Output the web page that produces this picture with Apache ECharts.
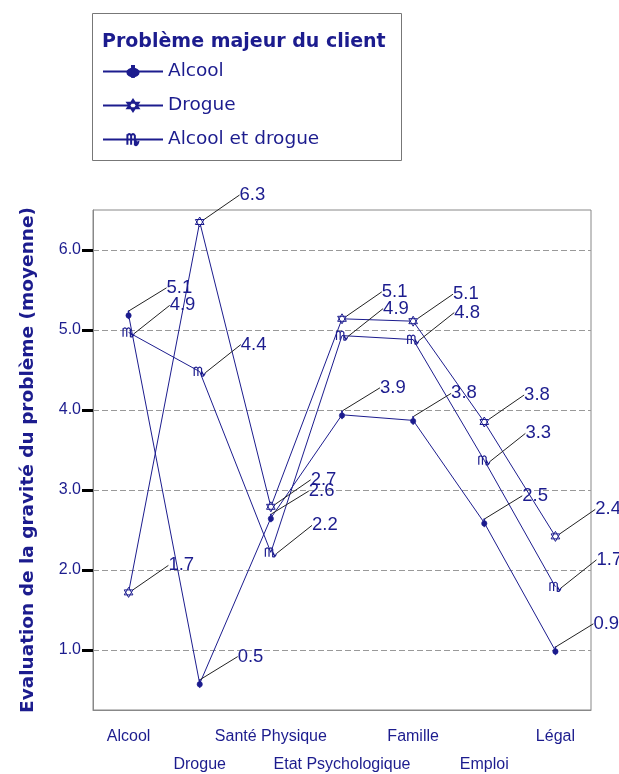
<!DOCTYPE html>
<html><head><meta charset="utf-8">
<script src="https://cdn.jsdelivr.net/npm/echarts@6/dist/echarts.min.js"></script>
<style>html,body{margin:0;padding:0;background:#fff}#c{width:619px;height:774px}</style>
</head><body><div id="c"></div>
<script>
const categories = ['Alcool','Drogue','Santé Physique','Etat Psychologique','Famille','Emploi','Légal'];
const seriesNames = ['Alcool','Drogue','Alcool et drogue'];
const alcoolValues = [5.19, 0.58, 2.65, 3.94, 3.87, 2.59, 0.99];
const drogueValues = [1.72, 6.35, 2.79, 5.14, 5.11, 3.85, 2.42];
const alcoolDrogueValues = [4.97, 4.48, 2.22, 4.93, 4.88, 3.37, 1.79];
const yTicks = [1, 2, 3, 4, 5, 6];

const NAVY = '#1c1c8e';
const symCircle = 'path://M5,0 L5,3 A4,4 0 1,1 4.99,3 Z M4.3,0 L5.7,0 L5.7,12 L4.3,12 Z';
const symStar = 'path://M5,0 L9.33,7.5 L0.67,7.5 Z M5,10 L0.67,2.5 L9.33,2.5 Z';
const symVirgo = 'path://M0,3 L0,10 M0,4 Q1.5,1.5 3,4 L3,10 M3,4 Q4.5,1.5 6,4 L6,10 Q8,11 9,7.5 M6,6 L8,10';

function trunc(v){ return (Math.floor(v*10+1e-9)/10).toFixed(1); }

const symbols = [
  {symbol: symCircle, size: 8, item: {color: NAVY, borderColor: NAVY, borderWidth: 0.6}},
  {symbol: symStar, size: 10, item: {color: '#fff', borderColor: NAVY, borderWidth: 1}},
  {symbol: symVirgo, size: 11, item: {color: 'rgba(0,0,0,0)', borderColor: NAVY, borderWidth: 1.2}}
];
const dataSets = [alcoolValues, drogueValues, alcoolDrogueValues];

const series = dataSets.map((d, i) => ({
  name: seriesNames[i],
  type: 'line',
  data: d,
  symbol: symbols[i].symbol,
  symbolSize: symbols[i].size,
  symbolKeepAspect: true,
  showAllSymbol: true,
  itemStyle: symbols[i].item,
  lineStyle: {color: NAVY, width: 1},
  label: {
    show: true, position: 'right', distance: 0,
    formatter: p => trunc(p.value),
    color: NAVY, fontFamily: 'Liberation Sans, Arial', fontSize: 18.5
  },
  labelLayout: {dx: 35, dy: -27},
  labelLine: {show: true, lineStyle: {color: '#222', width: 1}},
  animation: false
}));

const chart = echarts.init(document.getElementById('c'), null, {renderer: 'canvas'});
chart.setOption({
  animation: false,
  backgroundColor: '#fff',
  title: {
    text: 'Problème majeur du client',
    left: 97, top: 28,
    textStyle: {color: NAVY, fontFamily: 'DejaVu Sans', fontWeight: 'bold', fontSize: 19}
  },
  legend: {
    data: seriesNames,
    orient: 'vertical', left: 97, top: 57,
    itemWidth: 60, itemHeight: 14, itemGap: 15,
    textStyle: {color: NAVY, fontFamily: 'DejaVu Sans', fontSize: 18.5}
  },
  graphic: [{
    type: 'rect', left: 90, top: 11,
    shape: {width: 309, height: 147},
    style: {fill: 'none', stroke: '#777', lineWidth: 1},
    silent: true
  }],
  grid: {left: 93, right: 28, top: 210, bottom: 64, show: true, borderColor: '#888', borderWidth: 1,
         containLabel: false, outerBoundsMode: 'none'},
  xAxis: {
    type: 'category', data: categories, boundaryGap: true,
    axisLine: {lineStyle: {color: '#888', width: 1}},
    axisTick: {alignWithLabel: true, length: 8, lineStyle: {color: '#000', width: 3}},
    axisLabel: {
      interval: 0, margin: 13, lineHeight: 28,
      color: NAVY, fontFamily: 'Liberation Sans, Arial', fontSize: 16,
      formatter: (v, i) => (i % 2 ? '\n' + v : v)
    },
    splitLine: {show: false}
  },
  yAxis: {
    type: 'value', min: 0.25, max: 6.5,
    name: 'Evaluation de la gravité du problème (moyenne)',
    nameLocation: 'middle', nameRotate: 90, nameGap: 55, nameMoveOverlap: false,
    nameTextStyle: {color: NAVY, fontFamily: 'DejaVu Sans', fontWeight: 'bold', fontSize: 18.5},
    axisLine: {show: true, lineStyle: {color: '#888', width: 1}},
    axisTick: {show: true, length: 11, customValues: yTicks, lineStyle: {color: '#000', width: 3}},
    axisLabel: {
      customValues: yTicks, margin: 12,
      color: NAVY, fontFamily: 'Liberation Sans, Arial', fontSize: 16,
      formatter: v => v.toFixed(1)
    },
    splitLine: {show: true, lineStyle: {color: '#999', width: 1, type: [6, 3]}}
  },
  series: series
});
</script></body></html>
